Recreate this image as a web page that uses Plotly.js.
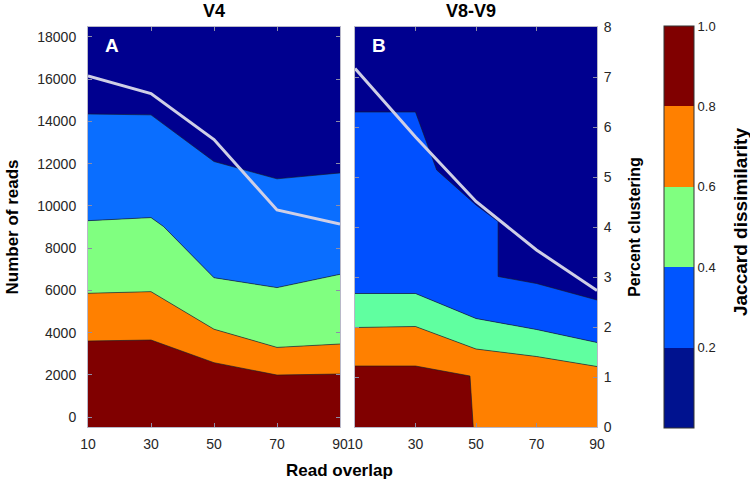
<!DOCTYPE html>
<html>
<head>
<meta charset="utf-8">
<script src="https://cdn.plot.ly/plotly-3.0.1.min.js"></script>
<style>html,body{margin:0;padding:0;background:#fff;}#chart{width:750px;height:479px;}</style>
</head>
<body>
<div id="chart"></div>
<script>
// ---------- data ----------
// Panel A (V4): contour boundaries in "Number of reads"
const aX = [10, 30, 50, 70, 90];
const aLevel08 = [3600, 3650, 2575, 1990, 2040];
const aLevel06 = [5860, 5940, 4160, 3300, 3460];
const aX04 = [10, 30, 34, 50, 70, 90];
const aLevel04 = [9300, 9445, 9020, 6600, 6130, 6760];
const aLevel02 = [14350, 14310, 12100, 11280, 11560];
const aPercent = [7.02, 6.67, 5.75, 4.34, 4.06];

// Panel B (V8-V9): contour boundaries on the percent scale
const bX = [10, 30, 50, 70, 90];
const bX08 = [10, 30, 48, 49.3, 90];
const bLevel08 = [1.22, 1.22, 1.02, -0.2, -0.2];
const bLevel06 = [1.99, 2.01, 1.56, 1.41, 1.21];
const bLevel04 = [2.67, 2.67, 2.17, 1.95, 1.69];
const bX02 = [10, 30, 37, 50, 57.3, 57.3, 70, 90];
const bLevel02 = [6.30, 6.30, 5.14, 4.44, 4.11, 3.01, 2.87, 2.54];
const bPercent = [7.17, 5.8, 4.51, 3.54, 2.73];

const xTicks = [10, 30, 50, 70, 90];
const readTicks = [0, 2000, 4000, 6000, 8000, 10000, 12000, 14000, 16000, 18000];
const readLabels = ['0', '2000', '4000', '6000', '8000', '10000', '12000', '14000', '16000', '18000'];
const pctTicks = [0, 1, 2, 3, 4, 5, 6, 7, 8];
const cbTicks = [0.2, 0.4, 0.6, 0.8, 1.0];
const cbLabels = ['0.2', '0.4', '0.6', '0.8', '1.0'];

// ---------- styles ----------
const FONT = 'Liberation Sans, Arial, sans-serif';
const NAVY = '#00008F';
const A_COLORS = {blue: '#0A6EFF', green: '#80FF80', orange: '#FF8000', red: '#800000'};
const B_COLORS = {blue: '#0050FF', green: '#60FFA0', orange: '#FF8000', red: '#800000'};
const EDGE = {color: '#1a1a1a', width: 0.6};

function band(x, y, color, xa, ya) {
  return {x: x, y: y, type: 'scatter', mode: 'lines', fill: 'tonexty', fillcolor: color,
          line: EDGE, xaxis: xa, yaxis: ya, hoverinfo: 'skip', showlegend: false};
}
function base(x, yv, xa, ya) {
  return {x: x, y: x.map(() => yv), type: 'scatter', mode: 'lines', line: {width: 0},
          xaxis: xa, yaxis: ya, hoverinfo: 'skip', showlegend: false};
}

const traces = [
  // Panel A
  base(aX, -2000, 'x', 'y'),
  band(aX, aLevel08, A_COLORS.red, 'x', 'y'),
  band(aX, aLevel06, A_COLORS.orange, 'x', 'y'),
  band(aX04, aLevel04, A_COLORS.green, 'x', 'y'),
  band(aX, aLevel02, A_COLORS.blue, 'x', 'y'),
  // Panel B
  base(bX, -1, 'x2', 'y2'),
  band(bX08, bLevel08, B_COLORS.red, 'x2', 'y2'),
  band(bX, bLevel06, B_COLORS.orange, 'x2', 'y2'),
  band(bX, bLevel04, B_COLORS.green, 'x2', 'y2'),
  band(bX02, bLevel02, B_COLORS.blue, 'x2', 'y2'),
  {x: bX, y: bPercent, type: 'scatter', mode: 'lines', line: {color: '#CFCFE6', width: 3},
   xaxis: 'x2', yaxis: 'y2', showlegend: false},
  // Panel A percent line
  {x: aX, y: aPercent, type: 'scatter', mode: 'lines', line: {color: '#CFCFE6', width: 3},
   xaxis: 'x', yaxis: 'y3', showlegend: false},
  // colour bar carrier (outside visible range)
  {type: 'heatmap', x: [-60, -50], y: [0, 1], z: [[0, 1], [1, 0]], xaxis: 'x', yaxis: 'y3',
   zmin: 0, zmax: 1, hoverinfo: 'skip',
   colorscale: [[0, '#00128F'], [0.2, '#00128F'], [0.2, '#0055FF'], [0.4, '#0055FF'],
                [0.4, '#80FF80'], [0.6, '#80FF80'], [0.6, '#FF8000'], [0.8, '#FF8000'],
                [0.8, '#800000'], [1, '#800000']],
   colorbar: {x: 1.1316, xanchor: 'left', xpad: 0, ypad: 0, y: 0.5, yanchor: 'middle',
              len: 1.005, lenmode: 'fraction', thickness: 30, thicknessmode: 'pixels',
              outlinewidth: 1, outlinecolor: '#333', ticks: '', tickvals: cbTicks, ticktext: cbLabels,
              ticklabelstandoff: 2,
              tickfont: {family: FONT, size: 13, color: '#222'}}}
];

const axisStyle = {
  ticks: 'inside', ticklen: 4, tickcolor: '#8c8ca8', showline: true, linecolor: '#b8b8c8',
  linewidth: 1, mirror: 'ticks', zeroline: false, showgrid: false, fixedrange: true,
  tickfont: {family: FONT, size: 14, color: '#262626'}
};

const layout = {
  width: 750, height: 479,
  margin: {l: 88, r: 153, t: 27, b: 52, autoexpand: false},
  paper_bgcolor: '#fff', plot_bgcolor: NAVY,
  font: {family: FONT, color: '#000'},
  showlegend: false,
  xaxis: Object.assign({}, axisStyle, {domain: [0, 0.4951], range: [10, 90], tickvals: xTicks, anchor: 'y', ticklabelstandoff: 4}),
  yaxis: Object.assign({}, axisStyle, {range: [-470, 18470], tickvals: readTicks, ticktext: readLabels, anchor: 'x', ticklabelstandoff: 8,
    title: {text: '<b>Number of reads</b>', font: {family: FONT, size: 17}, standoff: 14}}),
  yaxis3: {overlaying: 'y', range: [0, 8], visible: false, fixedrange: true},
  xaxis2: Object.assign({}, axisStyle, {domain: [0.5246, 1], range: [10, 90], tickvals: xTicks, anchor: 'y2', ticklabelstandoff: 4}),
  yaxis2: Object.assign({}, axisStyle, {range: [0, 8], tickvals: pctTicks, anchor: 'x2', side: 'right', ticklabelstandoff: 3,
    title: {text: '<b>Percent clustering</b>', font: {family: FONT, size: 16}, standoff: 18}}),
  annotations: [
    {text: '<b>V4</b>', xref: 'x domain', yref: 'paper', x: 0.5, y: 1.04, yanchor: 'middle', showarrow: false,
     font: {family: FONT, size: 18, color: '#000'}},
    {text: '<b>V8-V9</b>', xref: 'x2 domain', yref: 'paper', x: 0.48, y: 1.04, yanchor: 'middle', showarrow: false,
     font: {family: FONT, size: 18, color: '#000'}},
    {text: '<b>A</b>', xref: 'x domain', yref: 'paper', x: 0.06, y: 0.955, yanchor: 'middle', showarrow: false,
     font: {family: FONT, size: 19, color: '#fff'}},
    {text: '<b>B</b>', xref: 'x2 domain', yref: 'paper', x: 0.062, y: 0.955, yanchor: 'middle', showarrow: false,
     font: {family: FONT, size: 19, color: '#fff'}},
    {text: '<b>Read overlap</b>', xref: 'paper', yref: 'paper', x: 0.495, y: -0.1075, yanchor: 'middle', showarrow: false,
     font: {family: FONT, size: 17, color: '#000'}},
    {text: '<b>Jaccard dissimilarity</b>', xref: 'paper', yref: 'paper', x: 1.281, y: 0.5125, xanchor: 'center', yanchor: 'middle',
     textangle: -90, showarrow: false, font: {family: FONT, size: 19, color: '#000'}}
  ]
};

Plotly.newPlot('chart', traces, layout, {displayModeBar: false, staticPlot: true});
</script>
</body>
</html>
